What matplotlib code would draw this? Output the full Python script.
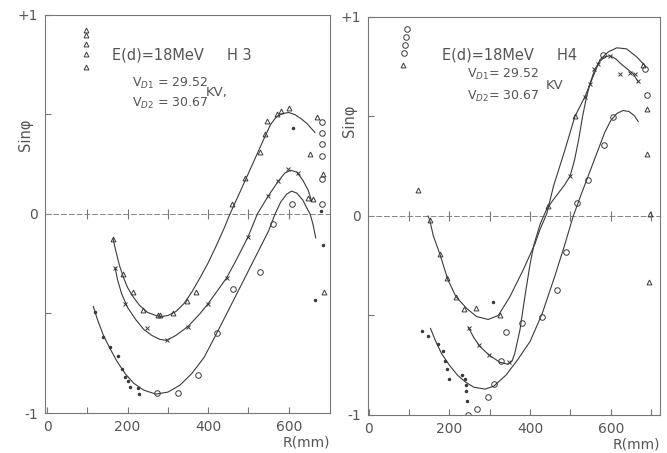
import numpy as np
import matplotlib
matplotlib.use("Agg")
import matplotlib.pyplot as plt

plt.rcParams['font.family'] = ['DejaVu Sans']
INK = '#3a3a3a'
TXT = '#555555'

# ---------------- left panel (H 3) ----------------
# fitted curves
h3_a_r = [164, 170, 180, 190, 200, 215, 230, 250, 270, 285, 300, 320, 340, 360, 380, 400, 420, 440, 454,
          480, 500, 520, 540, 555, 570, 585, 600, 615, 630, 645, 665]
h3_a_s = [-0.125, -0.18, -0.26, -0.32, -0.37, -0.42, -0.46, -0.495, -0.51, -0.515, -0.51, -0.49, -0.45, -0.39,
          -0.32, -0.245, -0.16, -0.07, 0.0, 0.115, 0.205, 0.295, 0.385, 0.45, 0.49, 0.505, 0.51, 0.50, 0.48, 0.455, 0.41]
h3_b_r = [169, 175, 185, 200, 220, 240, 260, 280, 297, 320, 350, 380, 400, 425, 446, 470, 499, 522, 549, 574,
          590, 605, 620, 635, 648, 657]
h3_b_s = [-0.27, -0.33, -0.40, -0.47, -0.53, -0.58, -0.61, -0.63, -0.635, -0.61, -0.565, -0.50, -0.45, -0.38,
          -0.32, -0.23, -0.115, 0.0, 0.09, 0.165, 0.205, 0.22, 0.21, 0.17, 0.12, 0.065]
h3_c_r = [115, 125, 140, 156, 175, 195, 215, 240, 270, 300, 330, 360, 390, 421, 450, 480, 505, 530, 550, 566,
          580, 595, 607, 620, 635, 645, 653, 660, 667]
h3_c_s = [-0.465, -0.53, -0.61, -0.675, -0.745, -0.805, -0.85, -0.885, -0.905, -0.895, -0.86, -0.80, -0.72, -0.60,
          -0.485, -0.365, -0.265, -0.165, -0.085, 0.0, 0.06, 0.10, 0.115, 0.105, 0.07, 0.03, 0.0, -0.05, -0.12]

# measured points
h3_tri_r = [164, 189, 214, 239, 276, 280, 313, 347, 371, 458, 491, 529, 541, 545, 570, 582, 601, 671, 653, 684,
            648, 661, 687, 97, 97, 97, 97, 97]
h3_tri_s = [-0.125, -0.30, -0.39, -0.48, -0.51, -0.51, -0.50, -0.435, -0.39, 0.05, 0.18, 0.31, 0.40, 0.465, 0.50,
            0.52, 0.535, 0.485, 0.30, 0.20, 0.08, 0.075, -0.39, 0.925, 0.90, 0.855, 0.805, 0.74]
h3_x_r = [169, 194, 247, 297, 350, 400, 446, 499, 549, 574, 599, 623]
h3_x_s = [-0.27, -0.45, -0.575, -0.635, -0.57, -0.45, -0.32, -0.115, 0.09, 0.165, 0.225, 0.205]
h3_o_r = [272, 326, 375, 421, 462, 529, 561, 607, 682, 682, 682, 682, 682, 682]
h3_o_s = [-0.90, -0.90, -0.81, -0.60, -0.375, -0.29, -0.05, 0.05, 0.46, 0.405, 0.35, 0.29, 0.175, 0.05]
h3_dot_r = [119, 140, 156, 177, 185, 194, 202, 206, 227, 229, 611, 679, 684, 665]
h3_dot_s = [-0.49, -0.62, -0.67, -0.715, -0.78, -0.82, -0.84, -0.87, -0.875, -0.905, 0.43, 0.015, -0.155, -0.43]

# ---------------- right panel (H4) ----------------
h4_a_r = [147, 151, 160, 176, 196, 216, 243, 267, 296, 321, 350, 383, 412, 424, 441, 458, 486, 511, 536, 553,
          573, 594, 615, 639, 664, 685]
h4_a_s = [0.0, -0.02, -0.10, -0.19, -0.32, -0.405, -0.465, -0.505, -0.52, -0.50, -0.405, -0.27, -0.14, -0.07,
          0.01, 0.15, 0.33, 0.50, 0.60, 0.685, 0.785, 0.825, 0.845, 0.84, 0.80, 0.755]
h4_b_r = [247, 260, 275, 299, 325, 345, 355, 362, 375, 387, 400, 410, 425, 440, 455, 470, 485, 499, 510, 520,
          530, 540, 550, 560, 572, 585, 598, 612, 625, 640, 655, 668]
h4_b_s = [-0.56, -0.61, -0.655, -0.70, -0.735, -0.745, -0.73, -0.69, -0.57, -0.405, -0.24, -0.14, -0.04, 0.03,
          0.075, 0.115, 0.155, 0.20, 0.28, 0.38, 0.50, 0.60, 0.675, 0.735, 0.775, 0.80, 0.805, 0.79, 0.765, 0.74,
          0.715, 0.675]
h4_c_r = [153, 165, 180, 200, 220, 240, 260, 288, 310, 340, 370, 400, 430, 460, 485, 507, 525, 540, 555, 570,
          585, 600, 615, 630, 645, 658, 668]
h4_c_s = [-0.565, -0.625, -0.69, -0.75, -0.80, -0.835, -0.86, -0.87, -0.855, -0.80, -0.72, -0.63, -0.49, -0.31,
          -0.15, 0.0, 0.10, 0.18, 0.26, 0.34, 0.42, 0.48, 0.515, 0.53, 0.525, 0.505, 0.475]

h4_tri_r = [151, 176, 194, 216, 236, 265, 325, 445, 511, 681, 689, 689, 697, 695, 122, 85]
h4_tri_s = [-0.02, -0.19, -0.31, -0.405, -0.465, -0.46, -0.50, 0.05, 0.50, 0.76, 0.54, 0.31, 0.01, -0.33, 0.13, 0.76]
h4_x_r = [249, 274, 299, 348, 499, 536, 548, 558, 569, 598, 623, 648, 660, 668]
h4_x_s = [-0.565, -0.65, -0.70, -0.735, 0.20, 0.60, 0.665, 0.74, 0.765, 0.805, 0.715, 0.72, 0.715, 0.68]
h4_o_r = [247, 269, 296, 310, 327, 340, 379, 429, 466, 490, 515, 544, 582, 606, 580, 685, 689, 88, 90, 92, 94]
h4_o_s = [-1.0, -0.97, -0.91, -0.845, -0.73, -0.585, -0.54, -0.51, -0.37, -0.18, 0.064, 0.18, 0.357, 0.495, 0.81,
          0.74, 0.61, 0.82, 0.86, 0.90, 0.94]
h4_dot_r = [131, 147, 171, 183, 189, 195, 199, 230, 238, 240, 241, 244, 307]
h4_dot_s = [-0.58, -0.605, -0.645, -0.68, -0.73, -0.77, -0.82, -0.80, -0.82, -0.85, -0.88, -0.93, -0.43]

fig = plt.figure(figsize=(6.67, 4.53), dpi=100)
ax1 = fig.add_axes([0.0675, 0.0883, 0.427, 0.8786])
ax2 = fig.add_axes([0.5517, 0.0839, 0.4378, 0.8786])


def frame(ax, xmax, xmin, ticks):
    ax.set_xlim(xmin, xmax)
    ax.set_ylim(-1, 1)
    for s in ax.spines.values():
        s.set_color('#777777')
        s.set_linewidth(0.8)
    ax.set_xticks(ticks)
    ax.set_xticklabels([str(t) if t % 200 == 0 else '' for t in ticks])
    ax.set_yticks([-1, -0.5, 0, 0.5, 1])
    ax.set_yticklabels(['-1', '', '0', '', '+1'])
    ax.tick_params(direction='in', length=4, width=0.8, color='#777777', labelcolor=TXT, labelsize=10, pad=5)
    ax.axhline(0, color='#888888', lw=0.7, ls=(0, (6, 2)))
    ax.plot(ticks[1:], [0] * (len(ticks) - 1), ls='none', marker='|', ms=7, mew=0.8, color='#777777')
    ax.text(1.0, -0.075, 'R(mm)', transform=ax.transAxes, ha='right', va='center', color=TXT, fontsize=10)


def points(ax, tr, ts, xr, xs, orr, os_, dr, ds):
    ax.plot(tr, ts, ls='none', marker='^', ms=3.5, mfc='none', mec=INK, mew=0.7)
    ax.plot(xr, xs, ls='none', marker='x', ms=3.5, color=INK, mew=0.7)
    ax.plot(orr, os_, ls='none', marker='o', ms=4, mfc='none', mec=INK, mew=0.7)
    ax.plot(dr, ds, ls='none', marker='.', ms=3, color=INK)


frame(ax1, 702, -5, list(range(0, 700, 100)))
for r, s in [(h3_a_r, h3_a_s), (h3_b_r, h3_b_s), (h3_c_r, h3_c_s)]:
    ax1.plot(r, s, color=INK, lw=0.8)
points(ax1, h3_tri_r, h3_tri_s, h3_x_r, h3_x_s, h3_o_r, h3_o_s, h3_dot_r, h3_dot_s)
ax1.text(161, 0.80, 'E(d)=18MeV     H 3', color=TXT, fontsize=10.5, va='center')
ax1.text(211, 0.655, 'V$_{D1}$ = 29.52', color=TXT, fontsize=9, va='center')
ax1.text(395, 0.61, 'KV,', color=TXT, fontsize=9.5, va='center')
ax1.text(211, 0.555, 'V$_{D2}$ = 30.67', color=TXT, fontsize=9, va='center')
ax1.text(-0.07, 0.70, 'Sinφ', transform=ax1.transAxes, rotation=90, ha='center', va='center',
         color=TXT, fontsize=10.5)

frame(ax2, 722, -2, list(range(0, 800, 100)))
for r, s in [(h4_a_r, h4_a_s), (h4_b_r, h4_b_s), (h4_c_r, h4_c_s)]:
    ax2.plot(r, s, color=INK, lw=0.8)
points(ax2, h4_tri_r, h4_tri_s, h4_x_r, h4_x_s, h4_o_r, h4_o_s, h4_dot_r, h4_dot_s)
ax2.text(181, 0.81, 'E(d)=18MeV     H4', color=TXT, fontsize=10.5, va='center')
ax2.text(243, 0.71, 'V$_{D1}$= 29.52', color=TXT, fontsize=9, va='center')
ax2.text(438, 0.655, 'KV', color=TXT, fontsize=9.5, va='center')
ax2.text(243, 0.60, 'V$_{D2}$= 30.67', color=TXT, fontsize=9, va='center')
ax2.text(-0.062, 0.74, 'Sinφ', transform=ax2.transAxes, rotation=90, ha='center', va='center',
         color=TXT, fontsize=10.5)

fig.savefig('out.png', dpi=100)
